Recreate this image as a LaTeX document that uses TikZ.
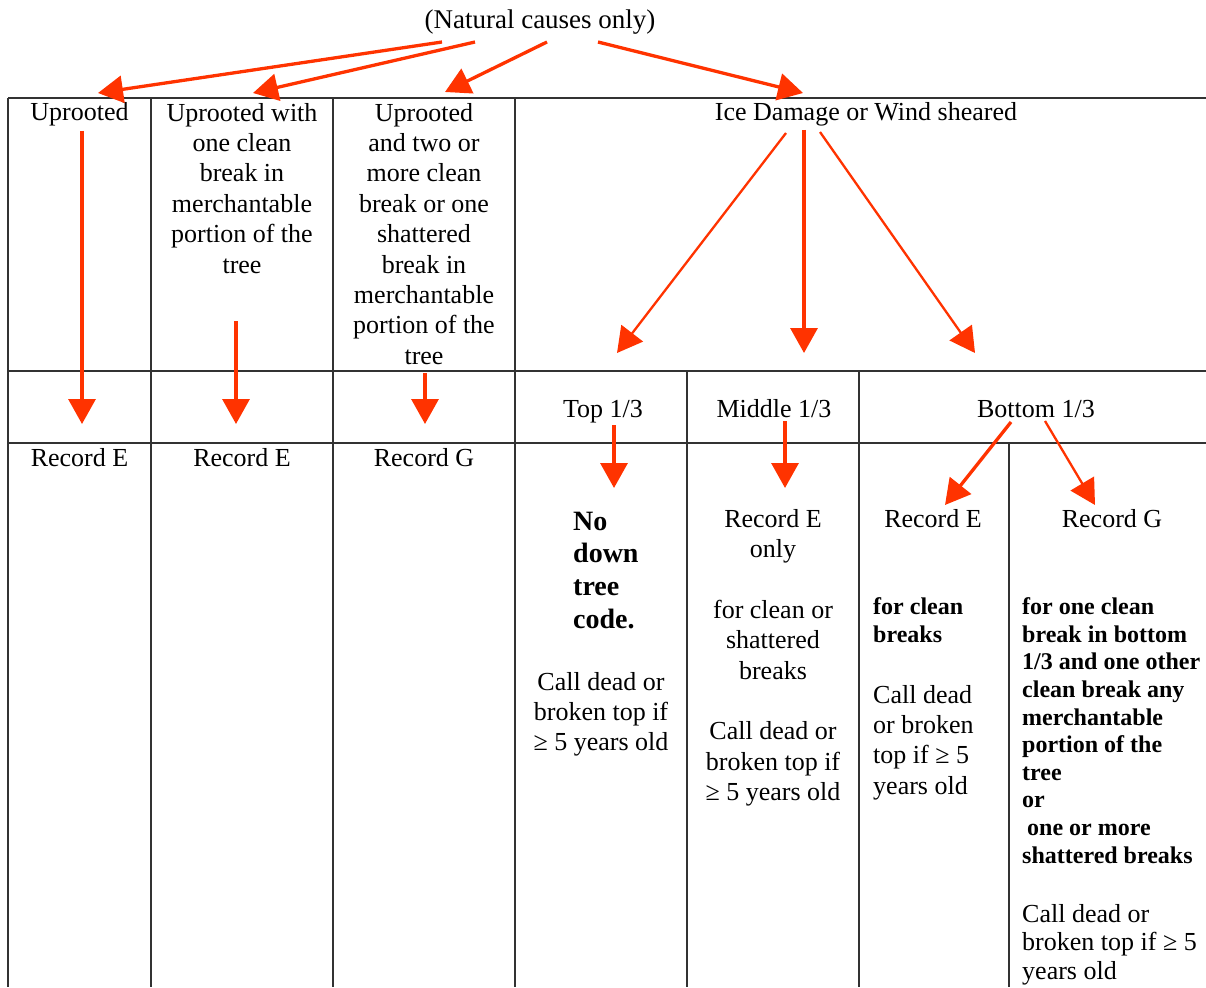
\documentclass[tikz,border=0pt]{standalone}
\usepackage{fontspec}
\setmainfont{Liberation Serif}
\usetikzlibrary{arrows.meta}
\definecolor{arrowred}{RGB}{255,51,0}
\definecolor{gridgray}{RGB}{50,50,50}
\newcommand\regtxt{\fontsize{26}{30.4}\selectfont}
\newcommand\tighttxt{\fontsize{26}{28.8}\selectfont}
\newcommand\boldbigtxt{\fontsize{28}{32.7}\selectfont\bfseries}
\newcommand\boldsmtxt{\fontsize{24}{27.6}\selectfont\bfseries}
\tikzset{
  gridline/.style={line width=1.7pt, draw=gridgray},
  arr/.style={draw=arrowred, line width=3.3pt, -{Triangle[length=25pt,width=27pt]}},
  arrthin/.style={arr, line width=2.3pt},
  txt/.style={inner sep=0pt, font=\regtxt, align=center},
  txtl/.style={inner sep=0pt, font=\regtxt, align=left, anchor=north west},
  boldbig/.style={inner sep=0pt, font=\boldbigtxt, align=left, anchor=north west},
  boldsm/.style={inner sep=0pt, font=\boldsmtxt, align=left, anchor=north west},
}
\begin{document}
\begin{tikzpicture}[x=1pt,y=-1pt]
\useasboundingbox (0,0) rectangle (1206,987);
\fill[white] (0,0) rectangle (1206,987);

% table grid
\draw[gridline] (8,98) -- (1206,98);
\draw[gridline] (8,371) -- (1206,371);
\draw[gridline] (8,443) -- (1206,443);
\draw[gridline] (8,98) -- (8,987);
\draw[gridline] (151,98) -- (151,987);
\draw[gridline] (333,98) -- (333,987);
\draw[gridline] (515,98) -- (515,987);
\draw[gridline] (687,371) -- (687,987);
\draw[gridline] (859,371) -- (859,987);
\draw[gridline] (1009,443) -- (1009,987);

% texts
\node[txt, anchor=base, font=\fontsize{27}{30.4}\selectfont] (title) at (540,29) {(Natural causes only)};
\node[txt, anchor=base] (u1) at (79.5,121) {Uprooted};
\node[txt, anchor=north] (u2) at (242,99.7) {\strut Uprooted with\\one clean\\break in\\merchantable\\portion of the\\tree};
\node[txt, anchor=north] (u3) at (424,99.7) {\strut Uprooted\\and two or\\more clean\\break or one\\shattered\\break in\\merchantable\\portion of the\\tree};
\node[txt, anchor=base] (ice) at (866,121) {Ice Damage or Wind sheared};

\node[txt, anchor=base] (top) at (603,417) {Top 1/3};
\node[txt, anchor=base] (mid) at (774,417) {Middle 1/3};
\node[txt, anchor=base] (bot) at (1036,417) {Bottom 1/3};

\node[txt, anchor=base] (r1) at (79.5,466) {Record E};
\node[txt, anchor=base] (r2) at (242,466) {Record E};
\node[txt, anchor=base] (r3) at (424,466) {Record G};

\node[boldbig] (nodown) at (573,507.1) {\strut No\\down\\tree\\code.};
\node[txt, anchor=north] (call1) at (601,668.7) {\strut Call dead or\\broken top if\\≥ 5 years old};

\node[txt, anchor=north] (midblock) at (773,505.7) {\strut Record E\\only\\[30.4pt]for clean or\\shattered\\breaks\\[30.4pt]Call dead or\\broken top if\\≥ 5 years old};

\node[txt, anchor=base] (r5) at (933,527) {Record E};
\node[txt, anchor=base] (r6) at (1112,527) {Record G};
\node[boldsm] (bold5) at (873,595.2) {\strut for clean\\breaks};
\node[txtl] (call5) at (873,681.7) {\strut Call dead\\or broken\\top if ≥ 5\\years old};
\node[boldsm] (bold6) at (1022,595.2) {\strut for one clean\\break in bottom\\1/3 and one other\\clean break any\\merchantable\\portion of the\\tree\\or\\\hspace*{5pt}one or more\\shattered breaks};
\node[txtl, font=\tighttxt] (call6) at (1022,901.8) {\strut Call dead or\\broken top if ≥ 5\\years old};

% arrow end points
\coordinate (a1s) at (442,42);  \coordinate (a1e) at (98,93);
\coordinate (a2s) at (475,42);  \coordinate (a2e) at (253,93);
\coordinate (a3s) at (547,42);  \coordinate (a3e) at (445,92);
\coordinate (a4s) at (598,42);  \coordinate (a4e) at (803,93);
\coordinate (b1s) at (82,131);  \coordinate (b1e) at (82,424);
\coordinate (b2s) at (236,321); \coordinate (b2e) at (236,424);
\coordinate (b3s) at (425,373); \coordinate (b3e) at (425,424);
\coordinate (c1s) at (786,133); \coordinate (c1e) at (617,353);
\coordinate (c2s) at (804,130); \coordinate (c2e) at (804,353);
\coordinate (c3s) at (820,132); \coordinate (c3e) at (975,353);
\coordinate (d1s) at (614,425); \coordinate (d1e) at (614,488);
\coordinate (d2s) at (785,421); \coordinate (d2e) at (785,488);
\coordinate (d3s) at (1011,422); \coordinate (d3e) at (945,505);
\coordinate (d4s) at (1045,421); \coordinate (d4e) at (1095,505);

\draw[arr] (a1s) -- (a1e);
\draw[arr] (a2s) -- (a2e);
\draw[arr] (a3s) -- (a3e);
\draw[arr] (a4s) -- (a4e);
\draw[arr] (b1s) -- (b1e);
\draw[arr] (b2s) -- (b2e);
\draw[arr] (b3s) -- (b3e);
\draw[arrthin] (c1s) -- (c1e);
\draw[arr] (c2s) -- (c2e);
\draw[arrthin] (c3s) -- (c3e);
\draw[arr] (d1s) -- (d1e);
\draw[arr] (d2s) -- (d2e);
\draw[arr] (d3s) -- (d3e);
\draw[arrthin] (d4s) -- (d4e);
\end{tikzpicture}
\end{document}
